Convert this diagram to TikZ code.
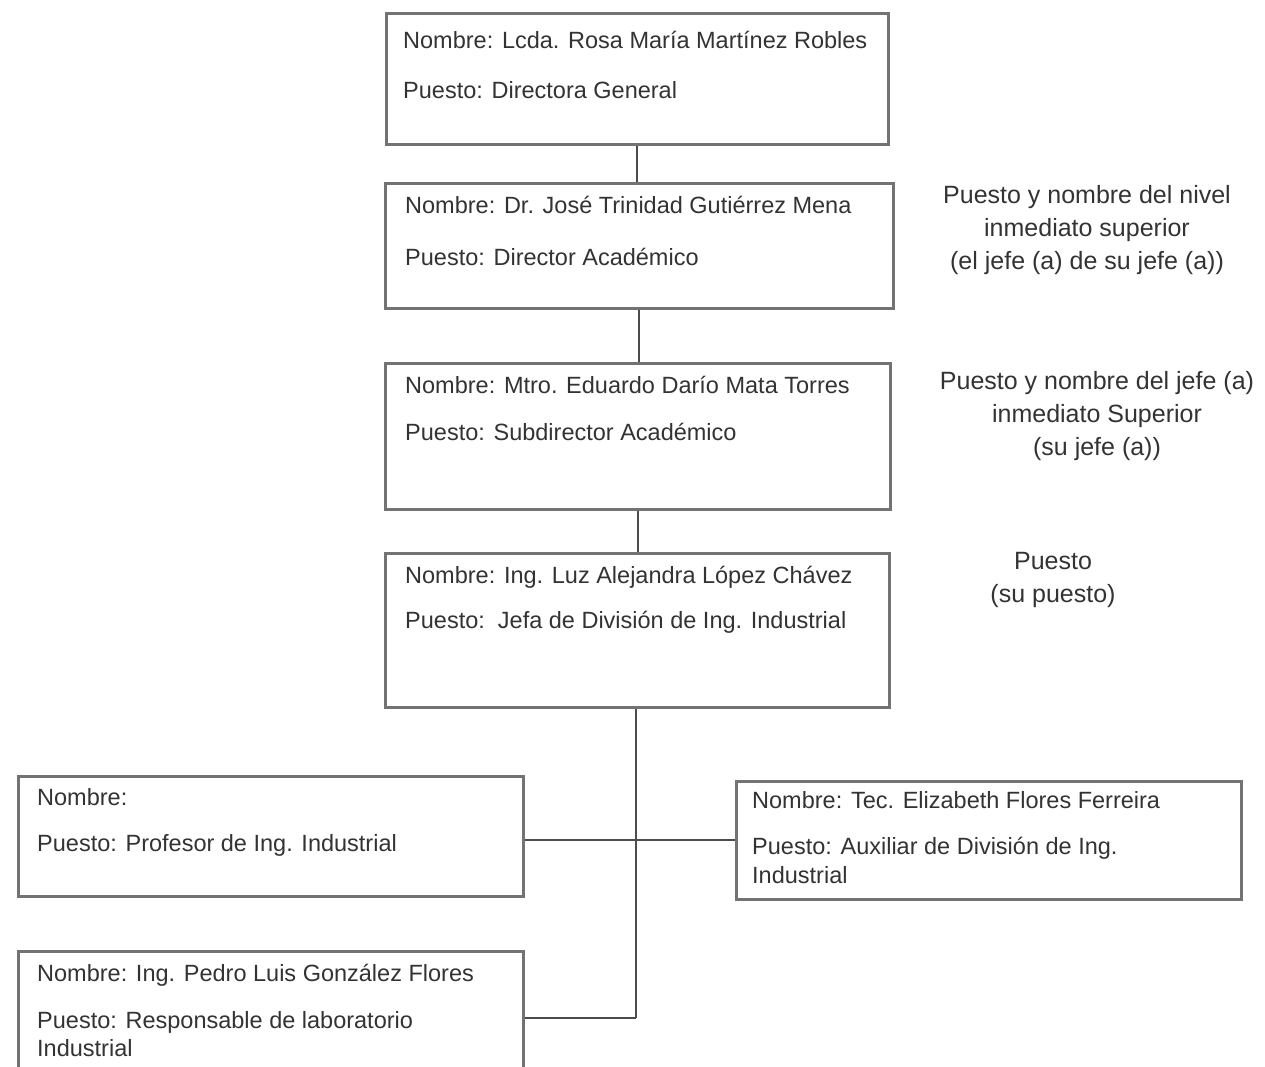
\documentclass[tikz,border=0pt]{standalone}
\usepackage{fontspec}
\setmainfont{Liberation Sans}
\begin{document}
\begin{tikzpicture}[x=1pt,y=-1pt,
  card/.style={draw=black!55,line width=2.6pt,fill=white,anchor=north west,inner sep=0pt},
  txt/.style={anchor=west,inner sep=0pt,text=black!80,font=\fontsize{23.5}{33}\selectfont},
  note/.style={align=center,inner sep=0pt,text=black!80,font=\fontsize{25}{33}\selectfont},
  link/.style={draw=black!70,line width=2.2pt}]
\useasboundingbox (0,0) rectangle (1265,1067);
\clip (0,0) rectangle (1265,1067);

% chain of command boxes
\node[card,minimum width=502pt,minimum height=131pt] (b1) at (385,12) {};
\node[card,minimum width=508pt,minimum height=125pt] (b2) at (384,182) {};
\node[card,minimum width=505pt,minimum height=146pt] (b3) at (384,362) {};
\node[card,minimum width=504pt,minimum height=154pt] (b4) at (384,552) {};
\node[card,minimum width=505pt,minimum height=120pt] (l1) at (17,775) {};
\node[card,minimum width=505pt,minimum height=118pt] (r1) at (735,780) {};
\node[card,minimum width=505pt,minimum height=135pt] (l2) at (17,950) {};

% box texts
\node[txt] (b1n) at (403,40) {Nombre: Lcda. Rosa María Martínez Robles};
\node[txt] (b1p) at (403,90) {Puesto: Directora General};
\node[txt] (b2n) at (405,205) {Nombre: Dr. José Trinidad Gutiérrez Mena};
\node[txt] (b2p) at (405,257) {Puesto: Director Académico};
\node[txt] (b3n) at (405,385) {Nombre: Mtro. Eduardo Darío Mata Torres};
\node[txt] (b3p) at (405,432) {Puesto: Subdirector Académico};
\node[txt] (b4n) at (405,577) {Nombre: Ing. Luz Alejandra López Chávez};
\node[txt] (b4p) at (405,622) {Puesto:\ \ Jefa de División de Ing. Industrial};
\node[txt] (l1n) at (37,797) {Nombre:};
\node[txt] (l1p) at (37,845) {Puesto: Profesor de Ing. Industrial};
\node[txt] (r1n) at (752,800) {Nombre: Tec. Elizabeth Flores Ferreira};
\node[txt] (r1p) at (752,848) {Puesto: Auxiliar de División de Ing.};
\node[txt] (r1q) at (752,875) {Industrial};
\node[txt] (l2n) at (37,975) {Nombre: Ing. Pedro Luis González Flores};
\node[txt] (l2p) at (37,1022) {Puesto: Responsable de laboratorio};
\node[txt] (l2q) at (37,1048) {Industrial};

% side notes
\node[note] (n1) at (1087,230) {Puesto y nombre del nivel\\inmediato superior\\(el jefe (a) de su jefe (a))};
\node[note] (n2) at (1097,416) {Puesto y nombre del jefe (a)\\inmediato Superior\\(su jefe (a))};
\node[note] (n3) at (1053,580) {Puesto\\(su puesto)};

% connectors
\coordinate (j1) at (636,840);
\coordinate (j2) at (636,1018);
\draw[link] (b1.south) -- (b1.south |- b2.north);
\draw[link] (b2.south) -- (b2.south |- b3.north);
\draw[link] (b3.south) -- (b3.south |- b4.north);
\draw[link] (b4.south -| j1) -- (j2);
\draw[link] (l1.east |- j1) -- (r1.west |- j1);
\draw[link] (l2.east |- j2) -- (j2);
\end{tikzpicture}
\end{document}
